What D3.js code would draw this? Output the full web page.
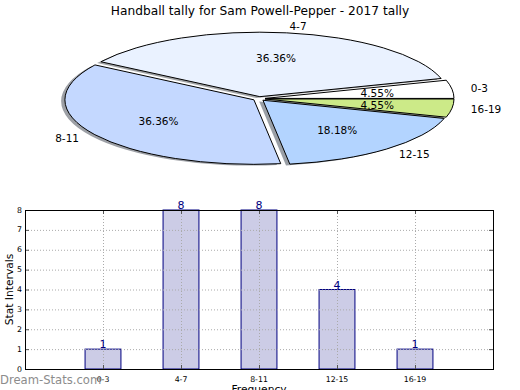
<!DOCTYPE html>
<html><head><meta charset="utf-8">
<script src="https://cdn.jsdelivr.net/npm/d3@7"></script>
<style>body{margin:0;background:#fff}svg{display:block}text{font-family:"DejaVu Sans",sans-serif}</style>
</head><body>
<svg id="c" width="520" height="390"></svg>
<script>
const title = "Handball tally for Sam Powell-Pepper - 2017 tally";
const categories = ["0-3","4-7","8-11","12-15","16-19"];
const counts = [1,8,8,4,1];
const pieColors = ["#ffffff","#eaf2ff","#c4d8ff","#b3d4ff","#ccea88"];
const yTicks = [0,1,2,3,4,5,6,7,8];
const xLabel = "Frequency", yLabel = "Stat Intervals", watermark = "Dream-Stats.com";

const svg = d3.select("#c");
svg.append("rect").attr("width",520).attr("height",390).attr("fill","#fff");

// Title
svg.append("text").attr("x",260).attr("y",15).attr("text-anchor","middle")
  .attr("font-size",12.2).attr("fill","#000").text(title);

// ---- Pie ----
const cx = 259, cy = 98.7, rx = 189, ry = 64.5, explode = 0.032;
const total = d3.sum(counts);
const pie = d3.pie().sort(null).startAngle(0).endAngle(2*Math.PI)(counts);
const arcGen = d3.arc().innerRadius(0).outerRadius(1);
const pieG = svg.append("g");
const slices = pie.map((d,i)=>{
  const tm = (d.startAngle + d.endAngle)/2;
  return {i, d, tm, ox: cx + explode*rx*Math.cos(tm), oy: cy - explode*ry*Math.sin(tm)};
});
const pathFor = s => arcGen({startAngle: Math.PI/2 - s.d.endAngle, endAngle: Math.PI/2 - s.d.startAngle});
// shadows
slices.forEach(s=>{
  const c = d3.rgb(pieColors[s.i]);
  pieG.append("path").attr("d", pathFor(s))
    .attr("transform",`translate(${s.ox-0.02*rx},${s.oy+0.02*ry}) scale(${rx},${ry})`)
    .attr("fill", d3.rgb(c.r*0.3,c.g*0.3,c.b*0.3)).attr("fill-opacity",0.5).attr("stroke","none");
});
slices.forEach(s=>{
  pieG.append("path").attr("d", pathFor(s))
    .attr("transform",`translate(${s.ox},${s.oy}) scale(${rx},${ry})`)
    .attr("fill", pieColors[s.i]).attr("stroke","#000").attr("stroke-width",1)
    .attr("vector-effect","non-scaling-stroke").attr("stroke-linejoin","round");
});
slices.forEach(s=>{
  const c = Math.cos(s.tm), sn = Math.sin(s.tm);
  pieG.append("text").attr("x", s.ox + 1.1*rx*c).attr("y", s.oy - 1.1*ry*sn)
    .attr("text-anchor", c>0 ? "start" : "end").attr("dominant-baseline","central")
    .attr("font-size",10.5).text(categories[s.i]);
  pieG.append("text").attr("x", s.ox + 0.6*rx*c).attr("y", s.oy - 0.6*ry*sn)
    .attr("text-anchor","middle").attr("dominant-baseline","central")
    .attr("font-size",10.5).text((counts[s.i]/total*100).toFixed(2)+"%");
});

// ---- Bar chart ----
const L=25, R=493, T=210, B=369;
const x = d3.scaleLinear().domain([-1,5]).range([L,R]);
const y = d3.scaleLinear().domain([0,8]).range([B,T]);
const bw = 0.46;
const bg = svg.append("g");
bg.selectAll("rect.bar").data(counts).join("rect").attr("class","bar")
  .attr("x",(d,i)=>x(i-bw/2)).attr("width",x(bw)-x(0))
  .attr("y",d=>y(d)).attr("height",d=>y(0)-y(d))
  .attr("fill","#ccccE6").attr("stroke","#000080").attr("stroke-width",1);
// grid
const gridG = bg.append("g").attr("stroke","#aaaaaa").attr("stroke-width",1).attr("stroke-dasharray","1,2");
yTicks.slice(1,-1).forEach(t=>gridG.append("line").attr("x1",L).attr("x2",R).attr("y1",y(t)+0.5).attr("y2",y(t)+0.5));
categories.forEach((c,i)=>gridG.append("line").attr("x1",Math.round(x(i))+0.5).attr("x2",Math.round(x(i))+0.5).attr("y1",T).attr("y2",B));
// ticks inside
const tk = bg.append("g").attr("stroke","#555").attr("stroke-width",1);
yTicks.forEach(t=>{
  tk.append("line").attr("x1",L).attr("x2",L+4).attr("y1",y(t)+0.5).attr("y2",y(t)+0.5);
  tk.append("line").attr("x1",R-4).attr("x2",R).attr("y1",y(t)+0.5).attr("y2",y(t)+0.5);
});
categories.forEach((c,i)=>{
  tk.append("line").attr("x1",Math.round(x(i))+0.5).attr("x2",Math.round(x(i))+0.5).attr("y1",B).attr("y2",B-4);
  tk.append("line").attr("x1",Math.round(x(i))+0.5).attr("x2",Math.round(x(i))+0.5).attr("y1",T).attr("y2",T+4);
});
// frame
bg.append("rect").attr("x",L+0.5).attr("y",T+0.5).attr("width",R-L).attr("height",B-T)
  .attr("fill","none").attr("stroke","#000").attr("stroke-width",1);
// y tick labels
yTicks.forEach(t=>bg.append("text").attr("x",L-3).attr("y",y(t)).attr("text-anchor","end")
  .attr("dominant-baseline","central").attr("font-size",7.8).text(t));
// x tick labels
categories.forEach((c,i)=>bg.append("text").attr("x",x(i)).attr("y",382).attr("text-anchor","middle")
  .attr("font-size",7.8).text(c));
// value labels
counts.forEach((v,i)=>bg.append("text").attr("x",x(i)).attr("y",y(v)-1).attr("text-anchor","middle")
  .attr("font-size",11).attr("fill","#000080").text(v));
// axis labels
bg.append("text").attr("transform",`translate(13,${(T+B)/2}) rotate(-90)`).attr("text-anchor","middle")
  .attr("font-size",10.7).text(yLabel);
bg.append("text").attr("x",(L+R)/2).attr("y",393).attr("text-anchor","middle")
  .attr("font-size",10.7).text(xLabel);
// watermark
svg.append("text").attr("x",0).attr("y",384).attr("font-size",11.6).attr("fill","#8c8c8c").text(watermark);
</script>
</body></html>
